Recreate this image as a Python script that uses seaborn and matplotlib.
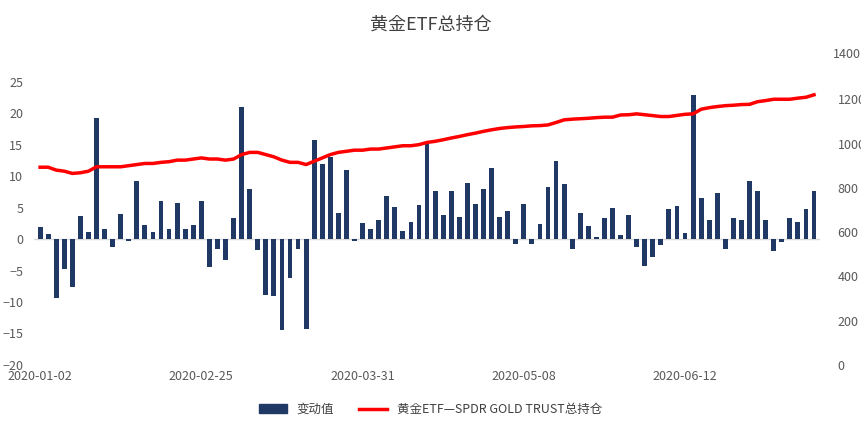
import matplotlib
matplotlib.use("Agg")
import matplotlib.pyplot as plt
from matplotlib.patches import Patch
from matplotlib.lines import Line2D
import seaborn as sns
import pandas as pd
import numpy as np

plt.rcParams["font.family"] = ["Noto Sans CJK JP", "Noto Sans CJK SC", "Noto Sans CJK TC", "DejaVu Sans"]

# ── Data ───────────────────────────────────────────────────────
change = [
    1.9, 0.8, -9.4, -4.7, -7.6, 3.7, 1.1, 19.2, 1.6, -1.2,
    4.0, -0.3, 9.3, 2.2, 1.1, 6.0, 1.6, 5.7, 1.6, 2.2,
    6.0, -4.5, -1.5, -3.3, 3.4, 21.0, 8.0, -1.8, -8.9, -9.1,
    -14.5, -6.2, -1.5, -14.3, 15.7, 12.0, 13.1, 4.2, 11.0, -0.3,
    2.5, 1.6, 3.1, 6.8, 5.1, 1.3, 2.8, 5.4, 15.4,
    7.7, 3.9, 7.7, 3.6, 9.0, 5.6, 8.0, 11.3, 3.6, 4.5,
    -0.7, 5.6, -0.7, 2.4, 8.3, 12.5, 8.8, -1.6, 4.2, 2.1,
    0.4, 3.3, 5.0, 0.7, 3.9, -1.3, -4.2, -2.8, -1.0, 4.8,
    5.3, 1.0, 23.0, 6.5, 3.0, 7.4, -1.6, 3.3, 3.0, 9.3,
    7.7, 3.0, -1.9, -0.4, 3.3, 2.7, 4.8, 7.7,
]
holding = [
    893, 893, 880, 875, 865, 868, 875, 895, 895, 895,
    895, 900, 905, 910, 910, 915, 918, 925, 925, 930,
    935, 930, 930, 925, 930, 950, 960, 960, 950, 940,
    925, 915, 915, 905, 920, 935, 950, 960, 965, 970,
    970, 975, 975, 980, 985, 990, 990, 995, 1005,
    1010, 1017, 1025, 1032, 1040, 1047, 1055, 1062, 1068, 1072,
    1075, 1077, 1080, 1081, 1084, 1095, 1107, 1110, 1112, 1114,
    1117, 1119, 1119, 1129, 1130, 1134, 1130, 1126, 1122, 1122,
    1127, 1132, 1134, 1155, 1162, 1167, 1171, 1173, 1176, 1177,
    1189, 1194, 1200, 1200, 1200, 1205, 1209, 1220,
]
tick_labels = ["2020-01-02", "2020-02-25", "2020-03-31", "2020-05-08", "2020-06-12"]
tick_pos = [0, 20, 40, 60, 80]

df = pd.DataFrame({"idx": np.arange(len(change)), "change": change, "holding": holding})

# ── Plot ───────────────────────────────────────────────────────
fig = plt.figure(figsize=(8.61, 4.36), dpi=100)
ax = fig.add_axes([0.040, 0.163, 0.912, 0.649])
sns.barplot(data=df, x="idx", y="change", ax=ax, color="#1f3864",
            width=0.6, saturation=1)
ax.set_ylim(-20, 25)
ax.set_yticks(range(-20, 30, 5))
ax.set_xlim(-0.7, len(change) - 0.3)
ax.set_xticks(tick_pos)
ax.set_xticklabels(tick_labels)
ax.axhline(0, color="#d9d9d9", lw=1, zorder=0)
ax.set_xlabel("")
ax.set_ylabel("")

ax2 = ax.twinx()
sns.lineplot(data=df, x="idx", y="holding", ax=ax2, color="#ff0000", lw=2.5)
ax2.set_ylim(0, 1400 * 283 / 310)
ax2.set_yticks(range(0, 1400, 200))
ax2.text(1.017, 1400, "1400", transform=ax2.get_yaxis_transform(),
         va="center", ha="left", fontsize=9, color="#595959", clip_on=False)
ax2.set_ylabel("")
ax2.set_xlabel("")

for a in (ax, ax2):
    for s in a.spines.values():
        s.set_visible(False)
    a.tick_params(length=0, labelsize=9, colors="#595959")
ax.tick_params(axis="y", pad=8)
ax2.tick_params(axis="y", pad=13)

fig.suptitle("黄金ETF总持仓", y=0.965, fontsize=13, color="#404040")

handles = [Patch(color="#1f3864", label="变动值"),
           Line2D([], [], color="#ff0000", lw=2.5, label="黄金ETF—SPDR GOLD TRUST总持仓")]
fig.legend(handles=handles, loc="lower center", bbox_to_anchor=(0.5, 0.02),
           ncol=2, frameon=False, fontsize=9, handlelength=2.2, labelcolor="#404040")

fig.savefig("out.png", dpi=100)
